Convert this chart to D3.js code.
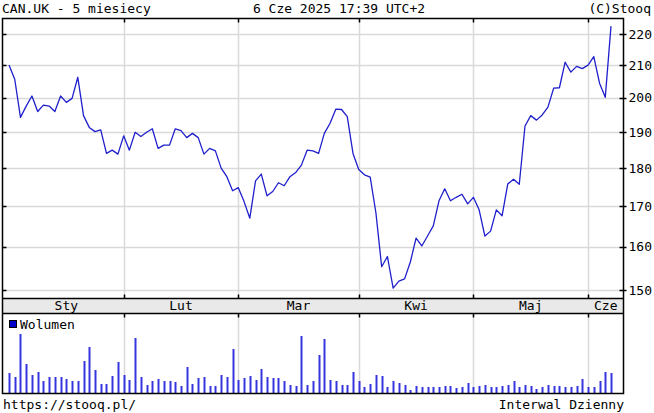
<!DOCTYPE html>
<html><head><meta charset="utf-8">
<script src="https://cdn.jsdelivr.net/npm/d3@7/dist/d3.min.js"></script>
<style>
html,body{margin:0;padding:0;background:#fff;}
svg text{font-family:"DejaVu Sans Mono",monospace;font-size:13px;fill:#000;}
</style></head>
<body>
<svg id="c" width="654" height="413"></svg>
<script>
const title = "CAN.UK - 5 miesiecy";
const stamp = "6 Cze 2025 17:39 UTC+2";
const brand = "(C)Stooq";
const footerLeft = "https://stooq.pl/";
const footerRight = "Interwal Dzienny";
const volumeLabel = "Wolumen";

const monthLabels = ["Sty","Lut","Mar","Kwi","Maj","Cze"];
const monthStartIndex = [0,20,40,61,81,101];
const priceTicks = [150,160,170,180,190,200,210,220];

const closePrices = [
 210.0,205.6,194.2,197.5,200.5,195.9,197.8,197.5,195.9,200.5,
 198.6,199.8,206.2,194.7,191.3,190.1,190.6,184.0,184.9,183.8,
 188.9,184.9,189.9,188.7,189.9,190.9,185.4,186.3,186.3,190.9,
 190.4,188.4,189.6,188.4,183.8,185.4,184.7,180.0,177.7,174.0,
 174.8,171.2,167.0,176.6,178.4,172.7,173.8,176.1,175.3,177.7,
 178.8,180.8,184.9,184.7,184.0,189.6,192.5,196.6,196.5,194.4,
 184.0,179.6,178.2,177.6,168.3,155.3,157.7,150.4,152.0,152.5,
 156.4,162.1,160.2,162.6,165.1,171.4,174.5,171.4,172.3,173.1,
 170.6,172.3,169.1,162.6,163.8,169.1,167.6,175.8,177.0,175.7,
 191.7,194.7,193.4,194.9,197.2,202.9,203.0,210.9,207.8,209.6,
 208.9,210.0,212.7,204.4,200.1,222.6
];
const volumes = [
 500,400,1475,725,450,525,300,400,400,400,
 350,300,300,800,1150,575,225,225,425,775,
 450,325,1375,400,200,300,350,300,300,275,
 175,650,225,375,400,175,175,450,400,1100,
 325,375,425,325,600,400,375,375,300,200,
 175,1425,200,300,950,1350,325,300,200,200,
 525,300,150,225,450,425,150,300,250,200,
 75,175,150,150,150,150,175,175,125,150,
 250,150,175,200,150,150,175,200,300,150,
 200,175,100,150,200,175,175,150,150,175,
 350,150,150,300,525,500
];

const svg = d3.select("#c");
const L = 2.5, R = 623.5, T = 18.5, BT = 298.5, BB = 313.5, VB = 393.5;
const grid = "#d9d9d9";
const ink = "#1f1fcc";

const x = d3.scaleLinear().domain([0, closePrices.length - 1]).range([9, 611]);
const y = d3.scaleLog().domain([148.2, 225.33]).range([298, 18]);
const yv = d3.scaleLinear().domain([0, 2000]).range([393, 313]);

// axis band background
svg.append("rect").attr("x", L).attr("y", BT).attr("width", R - L).attr("height", BB - BT).attr("fill", "#e9e9e9");

// horizontal gridlines
svg.append("g").selectAll("line").data(priceTicks).join("line")
  .attr("x1", L).attr("x2", R)
  .attr("y1", d => Math.round(y(d)) + 0.5).attr("y2", d => Math.round(y(d)) + 0.5)
  .attr("stroke", grid).attr("stroke-width", 1.5);

// vertical month gridlines (price + volume)
const gl = monthStartIndex.slice(1);
const gx = d => Math.round(x(d)) + 0.5;
svg.append("g").selectAll("line").data(gl).join("line")
  .attr("x1", gx).attr("x2", gx).attr("y1", T).attr("y2", BT)
  .attr("stroke", grid).attr("stroke-width", 1.5);
svg.append("g").selectAll("line").data(gl).join("line")
  .attr("x1", gx).attr("x2", gx).attr("y1", BB).attr("y2", VB)
  .attr("stroke", grid).attr("stroke-width", 1.5);

// price line
svg.append("path").datum(closePrices)
  .attr("d", d3.line().x((d, i) => x(i)).y(d => y(d)))
  .attr("fill", "none").attr("stroke", ink).attr("stroke-width", 1.3)
  .attr("stroke-linejoin", "round");

// volume bars
svg.append("g").selectAll("line").data(volumes).join("line")
  .attr("x1", (d, i) => Math.round(x(i)) + 0.5).attr("x2", (d, i) => Math.round(x(i)) + 0.5)
  .attr("y1", yv(0)).attr("y2", d => yv(d))
  .attr("stroke", "#3535dd").attr("stroke-width", 2);

// frames
const frame = svg.append("g").attr("fill", "none").attr("stroke", "#000").attr("stroke-width", 1.5);
frame.append("rect").attr("x", L).attr("y", T).attr("width", R - L).attr("height", VB - T);
frame.append("line").attr("x1", L).attr("x2", R).attr("y1", BT).attr("y2", BT);
frame.append("line").attr("x1", L).attr("x2", R).attr("y1", BB).attr("y2", BB);

// month ticks
const tk = svg.append("g").attr("stroke", "#000").attr("stroke-width", 1.5);
gl.forEach(d => {
  tk.append("line").attr("x1", gx(d)).attr("x2", gx(d)).attr("y1", T).attr("y2", T + 4);
  tk.append("line").attr("x1", gx(d)).attr("x2", gx(d)).attr("y1", BT - 4).attr("y2", BT);
  tk.append("line").attr("x1", gx(d)).attr("x2", gx(d)).attr("y1", BB).attr("y2", BB + 4);
});

// price ticks left and right
priceTicks.forEach(v => {
  const yy = Math.round(y(v)) + 0.5;
  tk.append("line").attr("x1", L).attr("x2", L + 4).attr("y1", yy).attr("y2", yy);
  tk.append("line").attr("x1", R - 4).attr("x2", R + 3).attr("y1", yy).attr("y2", yy);
});

// price tick labels via axis
const yAxis = d3.axisRight(y).tickValues(priceTicks).tickFormat(d3.format("d")).tickSize(0).tickPadding(5);
const ag = svg.append("g").attr("transform", `translate(${R},0)`).call(yAxis);
ag.select(".domain").remove();
ag.selectAll("text").style("font-family", '"DejaVu Sans Mono",monospace').style("font-size", "13px").attr("fill", "#000");

// month labels
const bounds = monthStartIndex.map((s, k) => {
  const a = x(s);
  const b = k < monthStartIndex.length - 1 ? x(monthStartIndex[k + 1]) : R;
  return (a + b) / 2;
});
svg.append("g").selectAll("text").data(monthLabels).join("text")
  .attr("x", (d, i) => bounds[i]).attr("y", 310).attr("text-anchor", "middle").text(d => d);

// header & footer
svg.append("text").attr("x", 2).attr("y", 13).text(title);
svg.append("text").attr("x", 339).attr("y", 13).attr("text-anchor", "middle").text(stamp);
svg.append("text").attr("x", 651).attr("y", 13).attr("text-anchor", "end").text(brand);
svg.append("text").attr("x", 3).attr("y", 409).text(footerLeft);
svg.append("text").attr("x", 624).attr("y", 409).attr("text-anchor", "end").text(footerRight);

// legend
svg.append("rect").attr("x", 9.5).attr("y", 320.5).attr("width", 7).attr("height", 7)
  .attr("fill", "#0000cc").attr("stroke", "#000").attr("stroke-width", 1);
svg.append("text").attr("x", 20).attr("y", 329).text(volumeLabel);
</script>
</body></html>
